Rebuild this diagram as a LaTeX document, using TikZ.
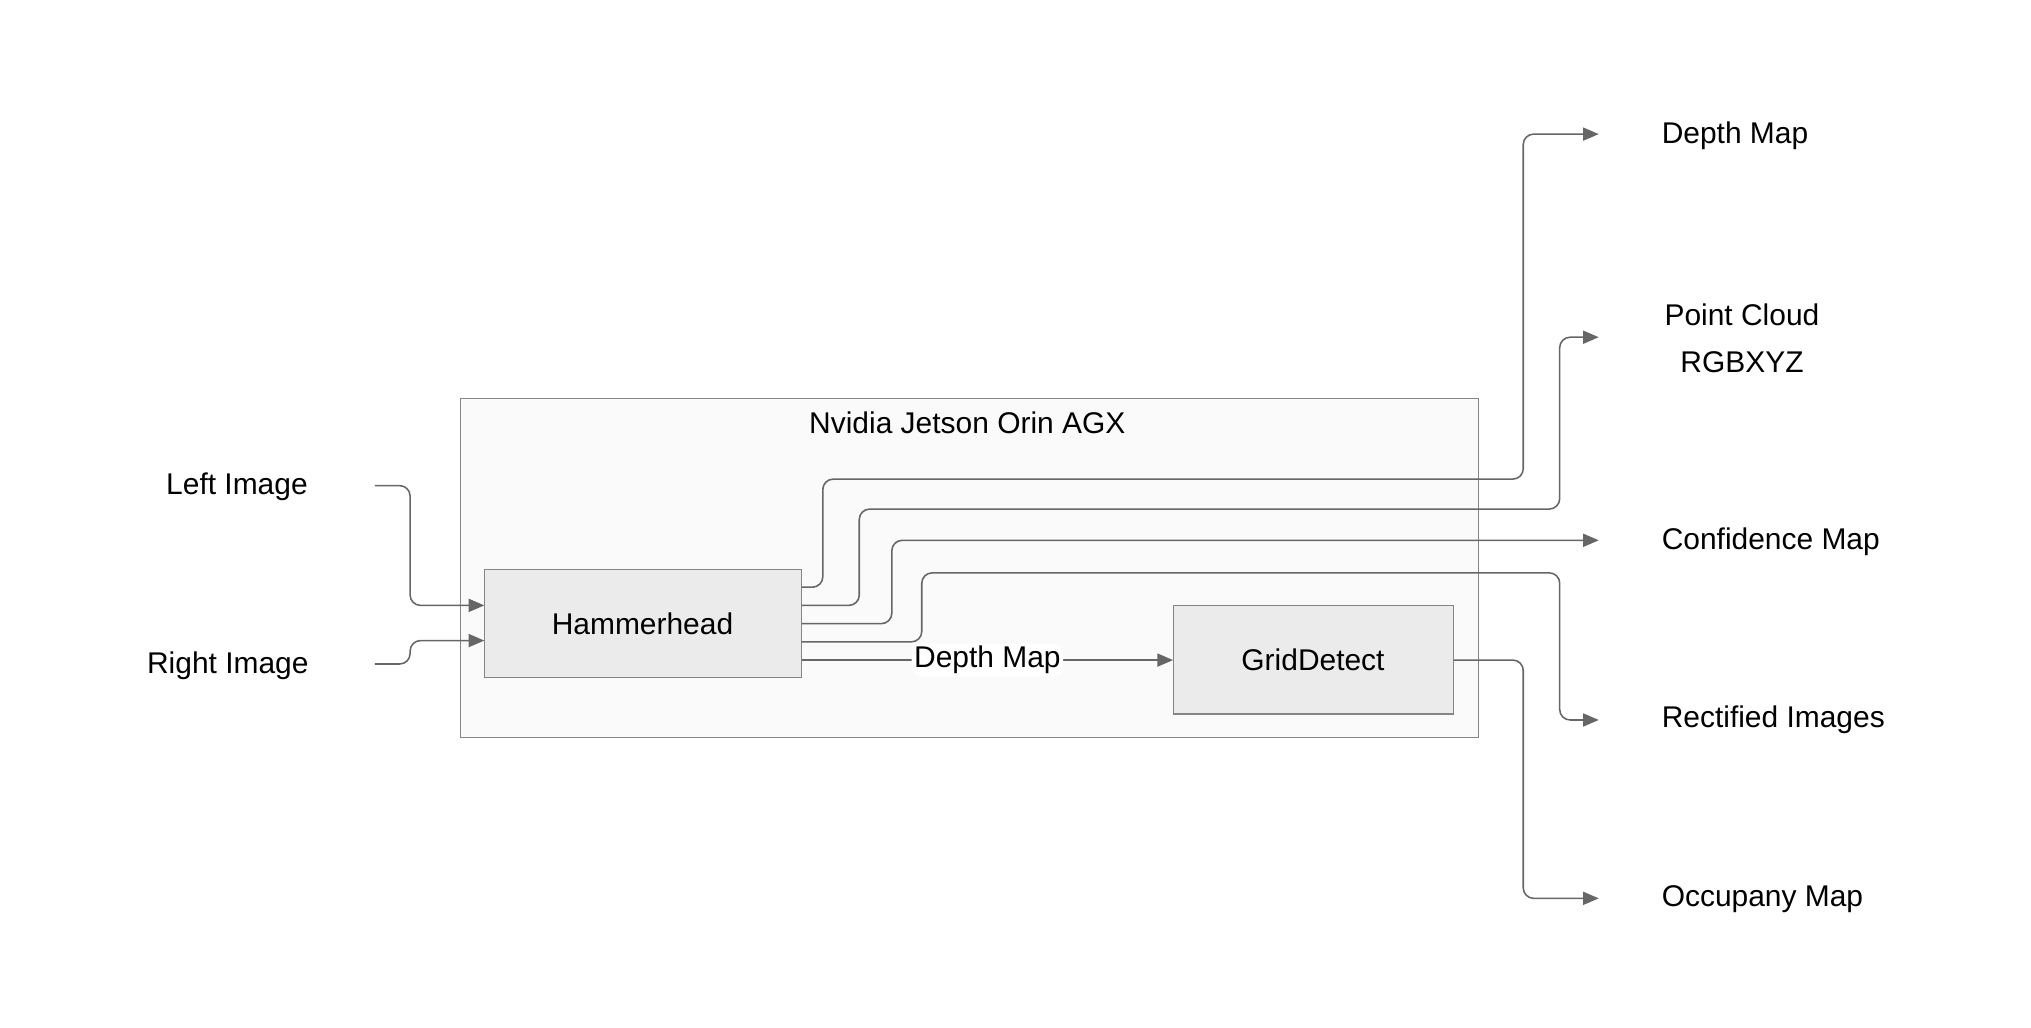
\documentclass[tikz,border=0pt]{standalone}
\usepackage{fontspec}
\setmainfont{Liberation Sans}
\usetikzlibrary{arrows.meta}
\definecolor{ln}{HTML}{666666}
\begin{document}
\begin{tikzpicture}[x=0.5pt,y=-0.5pt,
  font=\fontsize{11.5}{14}\selectfont,
  box/.style={draw=ln!80,fill=#1,inner sep=0pt,anchor=north west},
  lbl/.style={inner sep=1pt},
  con/.style={draw=ln,line width=0.6pt,rounded corners=4pt,-{Triangle[length=6pt,width=5pt]}}]
\useasboundingbox (0,0) rectangle (1560,789);
\node[box=black!2,minimum width=391pt,minimum height=130pt] (outer) at (353,306) {};
\node at (743,325) (title) {Nvidia Jetson Orin AGX};
\node[box=black!8,minimum width=121.5pt,minimum height=41.5pt] (hh) at (372,437) {};
\node at (493.5,479) (hht) {Hammerhead};
\node[box=black!8,minimum width=107.5pt,minimum height=41.5pt] (gd) at (901,465) {};
\node at (1008.5,507) (gdt) {GridDetect};
\node[lbl] (li) at (182,374) {Left Image};
\node[lbl] (ri) at (175,511) {Right Image};
\node[lbl,anchor=west] (dm) at (1274,104) {Depth Map};
\node[lbl,align=center] (pc) at (1338,260) {Point Cloud\\[4pt]RGBXYZ};
\node[lbl,anchor=west] (cm) at (1274,416) {Confidence Map};
\node[lbl,anchor=west] (rim) at (1274,553) {Rectified Images};
\node[lbl,anchor=west] (om) at (1274,691) {Occupany Map};
\coordinate (t1) at (1228,103);
\coordinate (t2) at (1228,259);
\coordinate (t3) at (1228,415);
\coordinate (t4) at (1228,553);
\coordinate (t5) at (1228,690);
\draw[con] (288,373) -| (315,465) -- (hh.west |- 0,465);
\draw[con] (288,510) -| (315,492) -- (hh.west |- 0,492);
\draw[con] (hh.east |- 0,451) -| (632,368) -| (1170,103) -- (t1);
\draw[con] (hh.east |- 0,465) -| (660,391) -| (1198,259) -- (t2);
\draw[con] (hh.east |- 0,479) -| (685,415) -- (t3);
\draw[con] (hh.east |- 0,493) -| (708,440) -| (1198,553) -- (t4);
\draw[con] (hh.east |- 0,507) -- node[fill=white,inner sep=1pt] {Depth Map} (gd.west |- 0,507);
\draw[con] (gd.east |- 0,507) -| (1170,690) -- (t5);
\end{tikzpicture}
\end{document}
